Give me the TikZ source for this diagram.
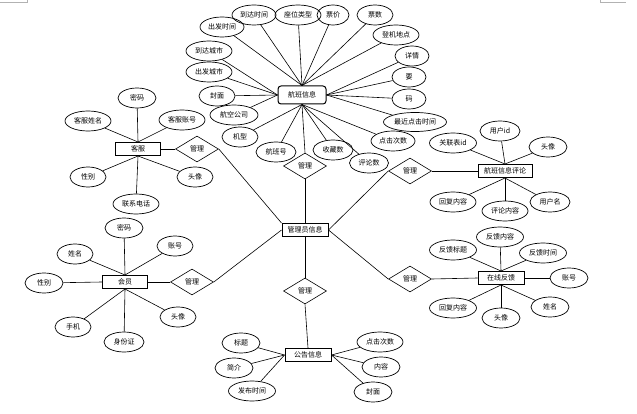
\documentclass[tikz,border=0pt]{standalone}
\usepackage{fontspec}
\newfontfamily\cjk{Noto Sans CJK SC}
\usetikzlibrary{shapes.geometric}

\begin{document}
\begin{tikzpicture}[x=1pt, y=-1pt,
    every node/.style={font=\cjk\fontsize{7}{8}\selectfont},
    attr/.style={ellipse, draw, line width=0.7pt, inner sep=0pt, minimum width=36pt, minimum height=20pt},
    ent/.style={rectangle, draw, line width=1pt, inner sep=1pt, minimum height=13pt},
    rel/.style={diamond, draw, line width=0.6pt, inner sep=0pt, minimum width=43pt, minimum height=26pt},
    link/.style={line width=0.6pt}]
      \useasboundingbox (0,0) rectangle (637,414);
      % page corner marks
      \draw[gray!60, line width=0.5pt] (0,2)--(27,2)--(27,0);
      \draw[gray!60, line width=0.5pt] (600,0)--(600,2)--(626,2);

      % entities
      \node[ent, rounded corners=3pt, minimum width=48pt, minimum height=18pt] (fl) at (302,95) {航班信息};
      \node[ent, minimum width=46pt] (admin) at (305,230) {管理员信息};
      \node[ent, minimum width=45pt] (kf) at (138,149) {客服};
      \node[ent, minimum width=45pt] (hy) at (125,282) {会员};
      \node[ent, minimum width=54pt] (pl) at (505,171) {航班信息评论};
      \node[ent, minimum width=46pt] (fk) at (501,278) {在线反馈};
      \node[ent, minimum width=46pt] (gg) at (308,355) {公告信息};

      % relations
      \node[rel] (r_fl) at (305,166) {管理};
      \node[rel] (r_kf) at (197,149) {管理};
      \node[rel] (r_hy) at (192,282) {管理};
      \node[rel] (r_pl) at (410,171) {管理};
      \node[rel] (r_fk) at (410,279) {管理};
      \node[rel] (r_gg) at (305,291) {管理};

      \draw[link] (fl.south) -- (r_fl.north);
      \draw[link] (r_fl.south) -- (admin.north);
      \draw[link] (kf.east) -- (r_kf.west);
      \draw[link] (r_kf.east) -- (admin.north west);
      \draw[link] (hy.east) -- (r_hy.west);
      \draw[link] (r_hy.east) -- (admin.west);
      \draw[link] (pl.west) -- (r_pl.east);
      \draw[link] (r_pl.west) -- (admin.east);
      \draw[link] (fk.west) -- (r_fk.east);
      \draw[link] (r_fk.west) -- (admin.east);
      \draw[link] (admin.south) -- (r_gg.north);
      \draw[link] (r_gg.south) -- (gg.north);

      % flight attributes
      \node[attr, minimum width=44pt] (fl_cfsj) at (222,27) {出发时间};
      \node[attr, minimum width=44pt] (fl_ddsj) at (254,15) {到达时间};
      \node[attr, minimum width=46pt] (fl_zwlx) at (298,15) {座位类型};
      \node[attr, minimum width=32pt] (fl_pj) at (333,15) {票价};
      \node[attr] (fl_ps) at (375,15) {票数};
      \node[attr, minimum width=46pt] (fl_djdd) at (396,35) {登机地点};
      \node[attr, minimum width=34pt] (fl_xq) at (412,56) {详情};
      \node[attr, minimum width=34pt] (fl_y) at (409,77) {要};
      \node[attr, minimum width=34pt] (fl_m) at (409,99) {码};
      \node[attr, minimum width=63pt, minimum height=19pt] (fl_zjdj) at (415,122) {最近点击时间};
      \node[attr, minimum width=44pt] (fl_djcs) at (393,141) {点击次数};
      \node[attr, minimum width=39pt] (fl_pls) at (369,163) {评论数};
      \node[attr, minimum width=40pt] (fl_scs) at (333,150) {收藏数};
      \node[attr, minimum width=40pt] (fl_hbh) at (276,152) {航班号};
      \node[attr] (fl_jx) at (240,137) {机型};
      \node[attr, minimum width=48pt] (fl_hkgs) at (234,115) {航空公司};
      \node[attr] (fl_fm) at (217,96) {封面};
      \node[attr, minimum width=46pt] (fl_cfcs) at (209,72) {出发城市};
      \node[attr, minimum width=46pt] (fl_ddcs) at (209,51) {到达城市};

      \foreach \a in {fl_cfsj,fl_ddsj,fl_zwlx,fl_pj,fl_ps,fl_djdd}
        \draw[link] (\a) -- (fl.north);
      \foreach \a in {fl_xq,fl_y,fl_m,fl_zjdj}
        \draw[link] (\a) -- (fl.east);
      \foreach \a in {fl_ddcs,fl_cfcs,fl_fm,fl_hkgs}
        \draw[link] (\a) -- (fl.west);
      \foreach \a in {fl_jx,fl_hbh,fl_scs,fl_pls,fl_djcs}
        \draw[link] (\a) -- (fl.south);

      % service attributes
      \node[attr, minimum width=38pt] (kf_mm) at (137,98) {密码};
      \node[attr, minimum width=46pt] (kf_xm) at (88,121) {客服姓名};
      \node[attr, minimum width=46pt] (kf_zh) at (182,120) {客服账号};
      \node[attr] (kf_xb) at (88,177) {性别};
      \node[attr] (kf_tx) at (195,177) {头像};
      \node[attr, minimum width=46pt] (kf_dh) at (136,204) {联系电话};
      \foreach \a in {kf_mm,kf_xm,kf_zh}
        \draw[link] (\a) -- (kf.north);
      \foreach \a in {kf_xb,kf_tx,kf_dh}
        \draw[link] (\a) -- (kf.south);

      % member attributes
      \node[attr, minimum width=38pt] (hy_mm) at (124,228) {密码};
      \node[attr] (hy_zh) at (175,246) {账号};
      \node[attr] (hy_xm) at (75,254) {姓名};
      \node[attr, minimum width=38pt] (hy_xb) at (44,283) {性别};
      \node[attr] (hy_sj) at (73,327) {手机};
      \node[attr, minimum width=40pt] (hy_sfz) at (124,342) {身份证};
      \node[attr] (hy_tx) at (178,317) {头像};
      \foreach \a in {hy_mm,hy_zh,hy_xm}
        \draw[link] (\a) -- (hy.north);
      \draw[link] (hy_xb) -- (hy.west);
      \foreach \a in {hy_sj,hy_sfz,hy_tx}
        \draw[link] (\a) -- (hy.south);

      % comment attributes
      \node[attr, minimum width=47pt] (pl_glb) at (453,143) {关联表id};
      \node[attr, minimum width=40pt] (pl_yhid) at (500,131) {用户id};
      \node[attr, minimum width=38pt] (pl_tx) at (548,147) {头像};
      \node[attr, minimum width=40pt] (pl_yhm) at (550,202) {用户名};
      \node[attr, minimum width=46pt] (pl_plnr) at (505,211) {评论内容};
      \node[attr, minimum width=46pt] (pl_hfnr) at (453,202) {回复内容};
      \foreach \a in {pl_glb,pl_yhid,pl_tx}
        \draw[link] (\a) -- (pl.north);
      \foreach \a in {pl_yhm,pl_plnr,pl_hfnr}
        \draw[link] (\a) -- (pl.south);

      % feedback attributes
      \node[attr, minimum width=47pt] (fk_bt) at (453,250) {反馈标题};
      \node[attr, minimum width=47pt] (fk_nr) at (500,237) {反馈内容};
      \node[attr, minimum width=47pt] (fk_sj) at (543,253) {反馈时间};
      \node[attr, minimum width=38pt] (fk_zh) at (569,278) {账号};
      \node[attr, minimum width=38pt] (fk_xm) at (550,307) {姓名};
      \node[attr, minimum width=38pt] (fk_tx) at (501,318) {头像};
      \node[attr, minimum width=47pt] (fk_hfnr) at (453,308) {回复内容};
      \foreach \a in {fk_bt,fk_nr,fk_sj}
        \draw[link] (\a) -- (fk.north);
      \draw[link] (fk_zh) -- (fk.east);
      \foreach \a in {fk_xm,fk_tx,fk_hfnr}
        \draw[link] (\a) -- (fk.south);

      % notice attributes
      \node[attr, minimum width=38pt] (gg_bt) at (241,343) {标题};
      \node[attr, minimum width=38pt] (gg_jj) at (234,368) {简介};
      \node[attr, minimum width=47pt] (gg_fbsj) at (252,391) {发布时间};
      \node[attr, minimum width=46pt] (gg_djcs) at (380,342) {点击次数};
      \node[attr, minimum width=38pt] (gg_nr) at (381,367) {内容};
      \node[attr, minimum width=38pt] (gg_fm) at (373,392) {封面};
      \foreach \a in {gg_bt,gg_jj,gg_fbsj}
        \draw[link] (\a) -- (gg.west);
      \foreach \a in {gg_djcs,gg_nr,gg_fm}
        \draw[link] (\a) -- (gg.east);
\end{tikzpicture}
\end{document}
